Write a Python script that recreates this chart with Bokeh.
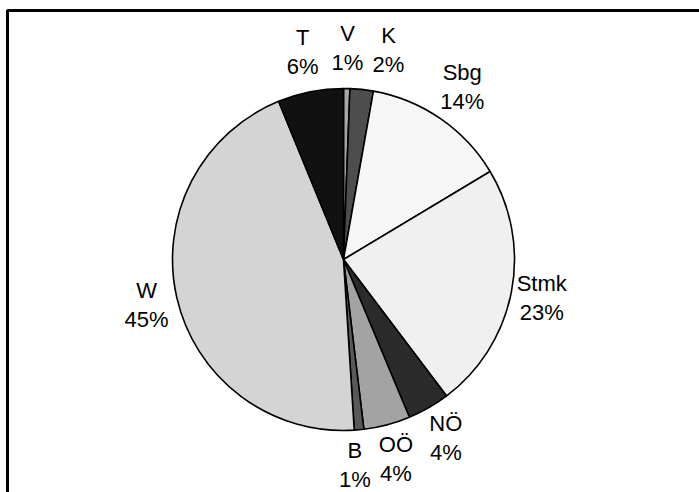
import numpy as np
from bokeh.plotting import figure
from bokeh.models import Range1d, ColumnDataSource
from bokeh.core.properties import value
from bokeh.embed import file_html
from bokeh.resources import INLINE

# Data (clockwise from 12 o'clock)
regions = ["V", "K", "Sbg", "Stmk", "NÖ", "OÖ", "B", "W", "T"]
shares = [0.6, 2.2, 13.6, 23.3, 4.0, 4.4, 0.9, 44.8, 6.2]
colors = ["#a6a6a6", "#4d4d4d", "#f6f6f6", "#f0f0f0", "#2b2b2b",
          "#a3a3a3", "#595959", "#d4d4d4", "#111111"]

W, H = 699, 492
cx, cy, r = 343, H - 259, 171

vals = np.array(shares, dtype=float)
frac = vals / vals.sum()
cum_end = np.cumsum(frac)
cum_start = cum_end - frac
start_angle = np.pi / 2 - 2 * np.pi * cum_start
end_angle = np.pi / 2 - 2 * np.pi * cum_end

mid = 2 * np.pi * (cum_start + cum_end) / 2
ux, uy = np.sin(mid), np.cos(mid)
d = r * (1.175 + np.where(uy > 0, 0.06, 0.03) * np.abs(uy))
lx = cx + d * ux
ly = cy + d * uy

# spread overlapping neighbouring labels (clockwise order)
min_gap = 41
for i in range(1, len(lx)):
    if abs(ly[i] - ly[i - 1]) < 40 and abs(lx[i] - lx[i - 1]) < min_gap:
        if uy[i] > 0:   # upper half: clockwise moves right
            lx[i] = lx[i - 1] + min_gap
        else:           # lower half: clockwise moves left
            lx[i] = lx[i - 1] - min_gap

pct = [f"{int(round(f * 100))}%" for f in frac]

src = ColumnDataSource(dict(start=start_angle, end=end_angle, color=colors))
lsrc = ColumnDataSource(dict(x=lx, y1=ly + 14.5, y2=ly - 14.5, name=regions, pct=pct))

p = figure(width=W, height=H, output_backend="svg", toolbar_location=None,
           x_range=Range1d(0, W), y_range=Range1d(0, H), min_border=0)
p.axis.visible = False
p.grid.visible = False
p.outline_line_color = None
p.background_fill_color = "white"

# outer frame (right/bottom edges fall outside the view)
p.quad(left=7, right=W + 20, top=H - 10, bottom=-20, fill_color=None,
       line_color="black", line_width=3)

p.wedge(x=cx, y=cy, radius=r, start_angle="start", end_angle="end",
        direction="clock", fill_color="color", line_color="black",
        line_width=1.6, source=src)

common = dict(text_align="center", text_baseline="middle",
              text_font=value("Liberation Sans"), text_font_size="22px",
              text_color="black", source=lsrc)
p.text(x="x", y="y1", text="name", **common)
p.text(x="x", y="y2", text="pct", **common)

open("out.html", "w").write(file_html(p, INLINE))
